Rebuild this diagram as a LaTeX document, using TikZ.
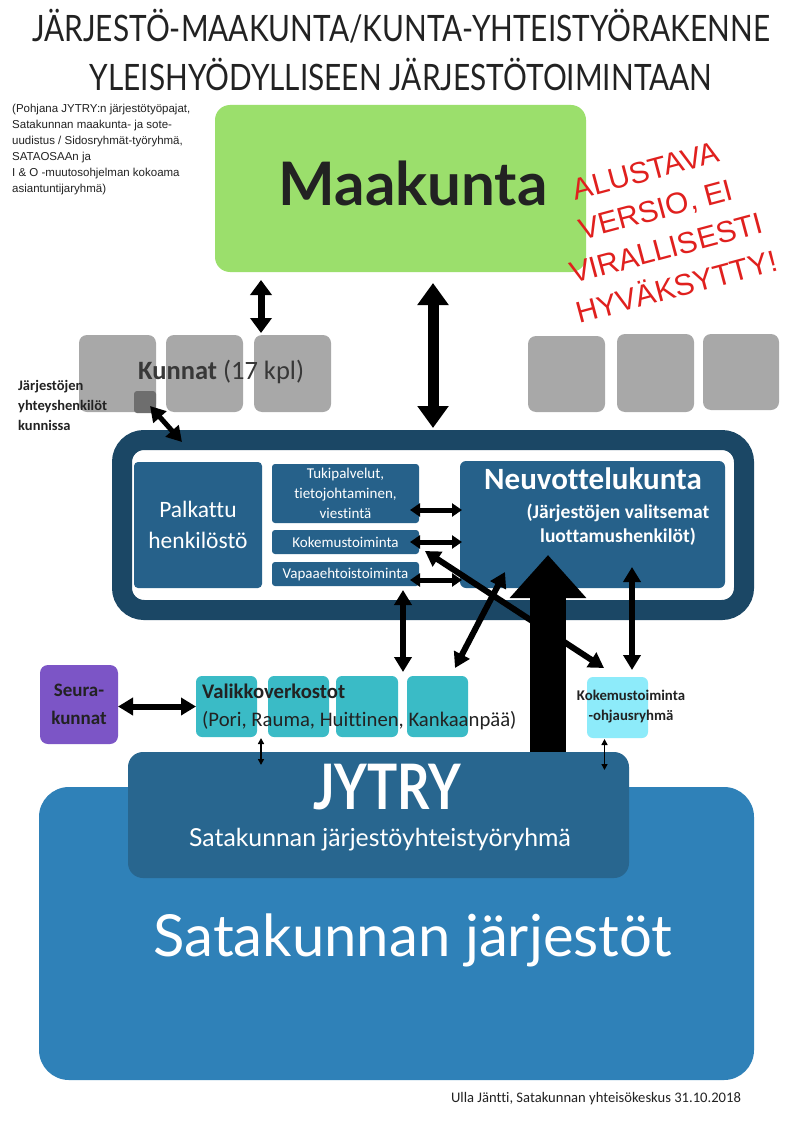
\documentclass[tikz,border=0pt]{standalone}
\usepackage{fontspec}
\setmainfont[Ligatures=CommonOff]{Carlito}
\newfontfamily\latofont{Lato}
\newfontfamily\arialfont{Liberation Sans}
\usetikzlibrary{arrows.meta,calc}

\definecolor{maakuntagreen}{HTML}{9BDF6C}
\definecolor{kuntagrey}{HTML}{A8A8A8}
\definecolor{yhteysgrey}{HTML}{6E6E6E}
\definecolor{kehysnavy}{HTML}{1B4765}
\definecolor{sisablue}{HTML}{26618A}
\definecolor{jytryblue}{HTML}{28668F}
\definecolor{jarjestoblue}{HTML}{2F81B8}
\definecolor{valikkoteal}{HTML}{3ABBC6}
\definecolor{ohjauscyan}{HTML}{8DEBFA}
\definecolor{seurapurple}{HTML}{7C55C6}
\definecolor{leimared}{HTML}{E0201E}
\definecolor{tummateksti}{HTML}{222222}

\tikzset{
  box/.style={rounded corners=#1, inner sep=0pt, outer sep=0pt},
  box/.default=8pt,
  arrbig/.style={line width=36pt, -{Triangle[width=74pt,length=43pt]}},
  arrL/.style={line width=11pt, >={Triangle[width=30pt,length=22pt]}, <->},
  arrM/.style={line width=7pt, >={Triangle[width=21pt,length=15pt]}, <->},
  arrD/.style={line width=6pt, >={Triangle[width=17pt,length=15pt]}, <->},
  arrS/.style={line width=5pt, >={Triangle[width=13pt,length=10pt]}, <->},
  arrT/.style={line width=1.6pt, >={Triangle[width=6pt,length=6pt]}, <->},
}

\begin{document}
\begin{tikzpicture}[x=1pt,y=-1pt]
  \useasboundingbox[fill=white] (0,0) rectangle (794,1123);

  % Otsikko
  \node[font=\latofont\fontsize{29.8}{30}\selectfont, text=tummateksti] (otsikko1) at (401,26) {\scalebox{1}[1.22]{JÄRJESTÖ-MAAKUNTA/KUNTA-YHTEISTYÖRAKENNE}};
  \node[font=\latofont\fontsize{29.8}{30}\selectfont, text=tummateksti] (otsikko2) at (401,74) {\scalebox{1}[1.22]{YLEISHYÖDYLLISEEN JÄRJESTÖTOIMINTAAN}};

  \node[anchor=north west, inner sep=0pt, align=left, font=\arialfont\fontsize{11.5}{16}\selectfont, text=tummateksti] (pohja) at (12,104)
    {(Pohjana JYTRY:n järjestötyöpajat,\\Satakunnan maakunta- ja sote-\\uudistus / Sidosryhmät-työryhmä,\\SATAOSAAn ja\\I \& O -muutosohjelman kokoama\\asiantuntijaryhmä)};

  % Maakunta
  \node[box=15pt, fill=maakuntagreen, minimum width=371pt, minimum height=167pt] (maakunta) at (400.5,188.5) {};
  \node[font=\latofont\bfseries\fontsize{60}{60}\selectfont, text=tummateksti] (maakuntateksti) at (413,183) {Maakunta};

  % Kunnat
  \node[box, fill=kuntagrey, minimum width=77pt, minimum height=77pt] (kunta1) at (117.5,373.5) {};
  \node[box, fill=kuntagrey, minimum width=77pt, minimum height=77pt] (kunta2) at (204.5,373.5) {};
  \node[box, fill=kuntagrey, minimum width=77pt, minimum height=77pt] (kunta3) at (292.5,373.5) {};
  \node[box, fill=kuntagrey, minimum width=77pt, minimum height=76pt] (kunta4) at (566.5,374) {};
  \node[box, fill=kuntagrey, minimum width=77pt, minimum height=78pt] (kunta5) at (655.5,373) {};
  \node[box, fill=kuntagrey, minimum width=76pt, minimum height=76pt] (kunta6) at (741,372) {};
  \node[anchor=base west, inner sep=0pt, font=\fontsize{26.5}{26.5}\selectfont, text=tummateksti!90] (kunnat) at (138,379) {\textbf{Kunnat} (17 kpl)};
  \node[box=3pt, fill=yhteysgrey, minimum width=22pt, minimum height=22pt] (yhteys) at (145,402) {};
  \node[anchor=north west, inner sep=0pt, align=left, font=\bfseries\fontsize{14.5}{20}\selectfont, text=tummateksti] (yhteysteksti) at (18,380)
    {Järjestöjen\\yhteyshenkilöt\\kunnissa};

  % Kehys ja sen sisällä olevat laatikot
  \node[draw=kehysnavy, line width=20pt, rounded corners=22pt, minimum width=622pt, minimum height=170pt, outer sep=10pt] (kehys) at (433,525) {};
  \node[box=4pt, fill=sisablue, minimum width=128pt, minimum height=126pt, align=center, text=white, font=\fontsize{23.5}{31}\selectfont] (palkattu) at (198,525) {Palkattu\\henkilöstö};
  \node[box=3pt, fill=sisablue, minimum width=147pt, minimum height=59pt, align=center, text=white, font=\fontsize{15}{20}\selectfont] (tuki) at (345.5,493.5) {Tukipalvelut,\\tietojohtaminen,\\viestintä};
  \node[box=3pt, fill=sisablue, minimum width=147pt, minimum height=24pt, text=white, font=\fontsize{15}{15}\selectfont] (kokemus) at (345.5,542) {Kokemustoiminta};
  \node[box=3pt, fill=sisablue, minimum width=147pt, minimum height=24pt, text=white, font=\fontsize{15}{15}\selectfont] (vapaa) at (345.5,574) {Vapaaehtoistoiminta};
  \node[box=6pt, fill=sisablue, minimum width=265pt, minimum height=127pt] (neuvottelu) at (592.5,524.5) {};
  \node[text=white, font=\bfseries\fontsize{31}{31}\selectfont] (neuvotteluotsikko) at (593,479) {Neuvottelukunta};
  \node[text=white, align=center, font=\bfseries\fontsize{19.5}{24}\selectfont] (neuvotteluteksti) at (618,525) {(Järjestöjen valitsemat\\luottamushenkilöt)};

  % Satakunnan järjestöt ja JYTRY
  \node[box=30pt, fill=jarjestoblue, minimum width=715pt, minimum height=293pt] (jarjestot) at (396.5,933.5) {};
  \node[text=white, font=\latofont\fontsize{58}{58}\selectfont] (jarjestotteksti) at (413,940) {Satakunnan järjestöt};
  \node[box=15pt, fill=jytryblue, minimum width=501pt, minimum height=126pt] (jytry) at (378.5,815) {};
  \node[text=white, font=\latofont\bfseries\fontsize{56}{56}\selectfont] (jytryotsikko) at (387,787) {\scalebox{0.9}[1.12]{JYTRY}};
  \node[text=white, font=\latofont\fontsize{24.8}{25}\selectfont] (jytryteksti) at (380,840) {Satakunnan järjestöyhteistyöryhmä};

  % Seurakunnat, valikkoverkostot, ohjausryhmä
  \node[box, fill=seurapurple, minimum width=78pt, minimum height=79pt, align=center, text=tummateksti, font=\bfseries\fontsize{19}{28}\selectfont] (seura) at (79,704.5) {Seura-\\kunnat};
  \node[box=6pt, fill=valikkoteal, minimum width=61pt, minimum height=61pt] (valikko1) at (226.5,706.5) {};
  \node[box=6pt, fill=valikkoteal, minimum width=61pt, minimum height=61pt] (valikko2) at (298.5,706.5) {};
  \node[box=6pt, fill=valikkoteal, minimum width=62pt, minimum height=61pt] (valikko3) at (367,706.5) {};
  \node[box=6pt, fill=valikkoteal, minimum width=61pt, minimum height=61pt] (valikko4) at (437.5,706.5) {};
  \node[anchor=north west, inner sep=0pt, align=left, text=tummateksti, font=\fontsize{20.7}{28}\selectfont] (valikkoteksti) at (202,684)
    {\textbf{Valikkoverkostot}\\(Pori, Rauma, Huittinen, Kankaanpää)};
  \node[box=6pt, fill=ohjauscyan, minimum width=61pt, minimum height=61pt] (ohjaus) at (617.5,707.5) {};
  \node[align=center, text=tummateksti, font=\bfseries\fontsize{14.8}{20}\selectfont] (ohjausteksti) at (631,707) {Kokemustoiminta\\-ohjausryhmä};

  % Nuolet
  \draw[arrM] ($(maakunta.south -| kunta3.west)+(7,8)$) -- ($(kunta3.north west)+(7,-2)$);
  \draw[arrL] ($(maakunta.south -| kehys.north)+(0,11)$) -- ($(kehys.north)+(0,-2)$);
  \draw[arrD, line width=5pt] ($(yhteys.center)+(5,4)$) -- ($(kehys.north west)+(70,12)$);
  \draw[arrS] ($(tuki.south east)+(-9,-13)$) -- ($(tuki.south east -| neuvottelu.west)+(2,-13)$);
  \draw[arrS] ($(kokemus.east)+(-9,0)$) -- ($(kokemus.east -| neuvottelu.west)+(2,0)$);
  \draw[arrS] ($(vapaa.east)+(-9,6)$) -- ($(vapaa.east -| neuvottelu.west)+(2,6)$);
  \draw[arrD] ($(vapaa.south east)+(-16,4)$) -- ($(valikko4.north west)+(-4,-4)$);
  \draw[arrD] ($(neuvottelu.south west)+(45,-16)$) -- ($(valikko4.north east)+(-13,-8)$);
  \draw[arrD] ($(kokemus.south east)+(6,-3)$) -- ($(ohjaus.north west)+(17,-9)$);
  \draw[arrD] ($(neuvottelu.south east)+(-93,-21)$) -- ($(ohjaus.north)+(14.5,-7)$);
  \draw[arrbig] ($(jytry.north east)+(-81,0)$) -- ($(neuvottelu.south west)+(88,-33)$);
  \draw[arrD] (seura.east |- valikko1.west) -- (valikko1.west);
  \draw[arrT] ($(valikko1.south east)+(4,1)$) -- ($(valikko1.south east)+(4,28)$);
  \draw[arrT] ($(ohjaus.south)+(-13,1)$) -- ($(ohjaus.south)+(-13,32)$);

  % Leima
  \node[rotate=15, align=center, text=leimared, font=\arialfont\fontsize{30}{40}\selectfont] (leima) at (661,229)
    {ALUSTAVA\\VERSIO, EI\\VIRALLISESTI\\HYVÄKSYTTY!};

  \node[text=tummateksti, font=\fontsize{14.6}{14.6}\selectfont] (tekija) at (596,1099) {Ulla Jäntti, Satakunnan yhteisökeskus 31.10.2018};
\end{tikzpicture}
\end{document}
